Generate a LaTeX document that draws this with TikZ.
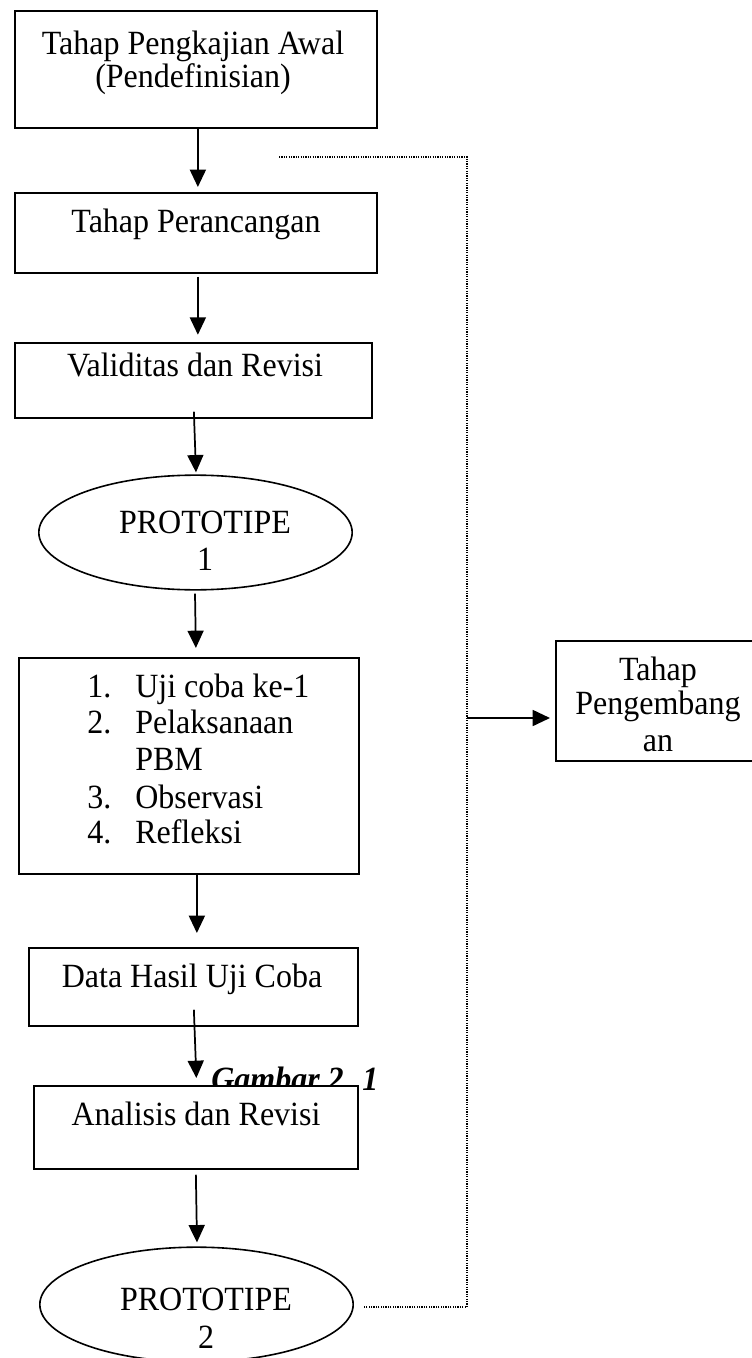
\documentclass[tikz,border=0pt]{standalone}
\usepackage{fontspec}
\usepackage{graphicx}
\setmainfont{Liberation Serif}
\usetikzlibrary{shapes.geometric,arrows.meta,calc}
\newcommand{\vst}[1]{\scalebox{1}[1.06]{#1}}
\begin{document}
\begin{tikzpicture}[x=0.75pt,y=-0.75pt,
  boxnode/.style={draw=black,line width=1.3pt,fill=white,rectangle,inner sep=0pt,anchor=north west},
  ellnode/.style={draw=black,line width=1.2pt,fill=white,ellipse,inner sep=0pt,minimum width=235pt,minimum height=86pt},
  txt/.style={inner sep=0pt,font=\fontsize{24}{28}\selectfont},
  arr/.style={line width=1.3pt,-{Triangle[length=13pt,width=12pt]}},
  dotline/.style={line width=0.9pt,dash pattern=on 0.9pt off 0.9pt}]
\useasboundingbox (0,0) rectangle (752,1358);
\clip (0,0) rectangle (752,1358);
\fill[white] (0,0) rectangle (752,1358);

% boxes
\node[boxnode,minimum width=271.5pt,minimum height=87.75pt] (b1) at (14,10) {};
\node[boxnode,minimum width=271.5pt,minimum height=60pt] (b2) at (14,192) {};
\node[boxnode,minimum width=267.75pt,minimum height=56.25pt] (b3) at (14,342) {};
\node[ellnode] (e1) at (195.5,532.5) {};
\node[boxnode,minimum width=255pt,minimum height=162pt] (b4) at (18,657) {};
\node[boxnode,minimum width=246.75pt,minimum height=58.5pt] (b5) at (28,947) {};
\node[txt,anchor=base west,font=\fontsize{24}{28}\selectfont\bfseries\itshape] (cap) at (211,1090) {\vst{Gambar 2. 1}};
\node[boxnode,minimum width=243pt,minimum height=62.25pt] (b6) at (33,1085) {};
\node[ellnode] (e2) at (196.5,1304.5) {};
\node[boxnode,minimum width=161.25pt,minimum height=90pt] (br) at (555,640) {};

% texts
\node[txt,anchor=base] (t1a) at (193,55) {\vst{Tahap Pengkajian Awal}};
\node[txt,anchor=base] (t1b) at (193,88) {\vst{(Pendefinisian)}};
\node[txt,anchor=base] (t2) at (196,233) {\vst{Tahap Perancangan}};
\node[txt,anchor=base] (t3) at (195,377) {\vst{Validitas dan Revisi}};
\node[txt,anchor=base] (te1a) at (205,533) {\vst{PROTOTIPE}};
\node[txt,anchor=base] (te1b) at (205,570) {\vst{1}};
\node[txt,anchor=base west] (n1) at (87,697) {\vst{1.}};
\node[txt,anchor=base west] (l1) at (135,697) {\vst{Uji coba ke-1}};
\node[txt,anchor=base west] (n2) at (87,733) {\vst{2.}};
\node[txt,anchor=base west] (l2) at (135,733) {\vst{Pelaksanaan}};
\node[txt,anchor=base west] (l2b) at (135,770) {\vst{PBM}};
\node[txt,anchor=base west] (n3) at (87,808) {\vst{3.}};
\node[txt,anchor=base west] (l3) at (135,808) {\vst{Observasi}};
\node[txt,anchor=base west] (n4) at (87,843) {\vst{4.}};
\node[txt,anchor=base west] (l4) at (135,843) {\vst{Refleksi}};
\node[txt,anchor=base] (t5) at (192,987) {\vst{Data Hasil Uji Coba}};
\node[txt,anchor=base] (t6) at (196,1125) {\vst{Analisis dan Revisi}};
\node[txt,anchor=base] (te2a) at (206,1310) {\vst{PROTOTIPE}};
\node[txt,anchor=base] (te2b) at (206,1348) {\vst{2}};
\node[txt,anchor=base] (tra) at (658,680) {\vst{Tahap}};
\node[txt,anchor=base] (trb) at (658,714) {\vst{Pengembang}};
\node[txt,anchor=base] (trc) at (658,751) {\vst{an}};

% arrows
\draw[arr] ($(b1.south)+(2,0)$) -- ($(b2.north)+(2,-5)$);
\draw[arr] ($(b2.south)+(2,3)$) -- ($(b2.south)+(2,61)$);
\draw[arr] ($(b3.south)+(0.5,-7)$) -- ($(e1.north)+(0.5,-2)$);
\draw[arr] ($(e1.south)+(-0.5,3)$) -- ($(b4.north)+(7,-9)$);
\draw[arr] ($(b4.south)+(8,0)$) -- ($(b5.north)+(3.5,-14)$);
\draw[arr] ($(b5.south)+(0.5,-17)$) -- ($(b6.north)+(0.5,-7)$);
\draw[arr] ($(b6.south)+(0,5)$) -- ($(e2.north)+(0.5,-4)$);

% dotted connector
\coordinate (ds) at (279,157);
\coordinate (dc1) at (467,157);
\coordinate (dm) at (467,718);
\coordinate (dc2) at (467,1307);
\draw[dotline] (ds) -- (dc1) -- (dc2) -- ($(e2.east)+(10,2.5)$);
\draw[arr] (dm) -- ($(br.west |- dm)+(-5,0)$);
\end{tikzpicture}
\end{document}
